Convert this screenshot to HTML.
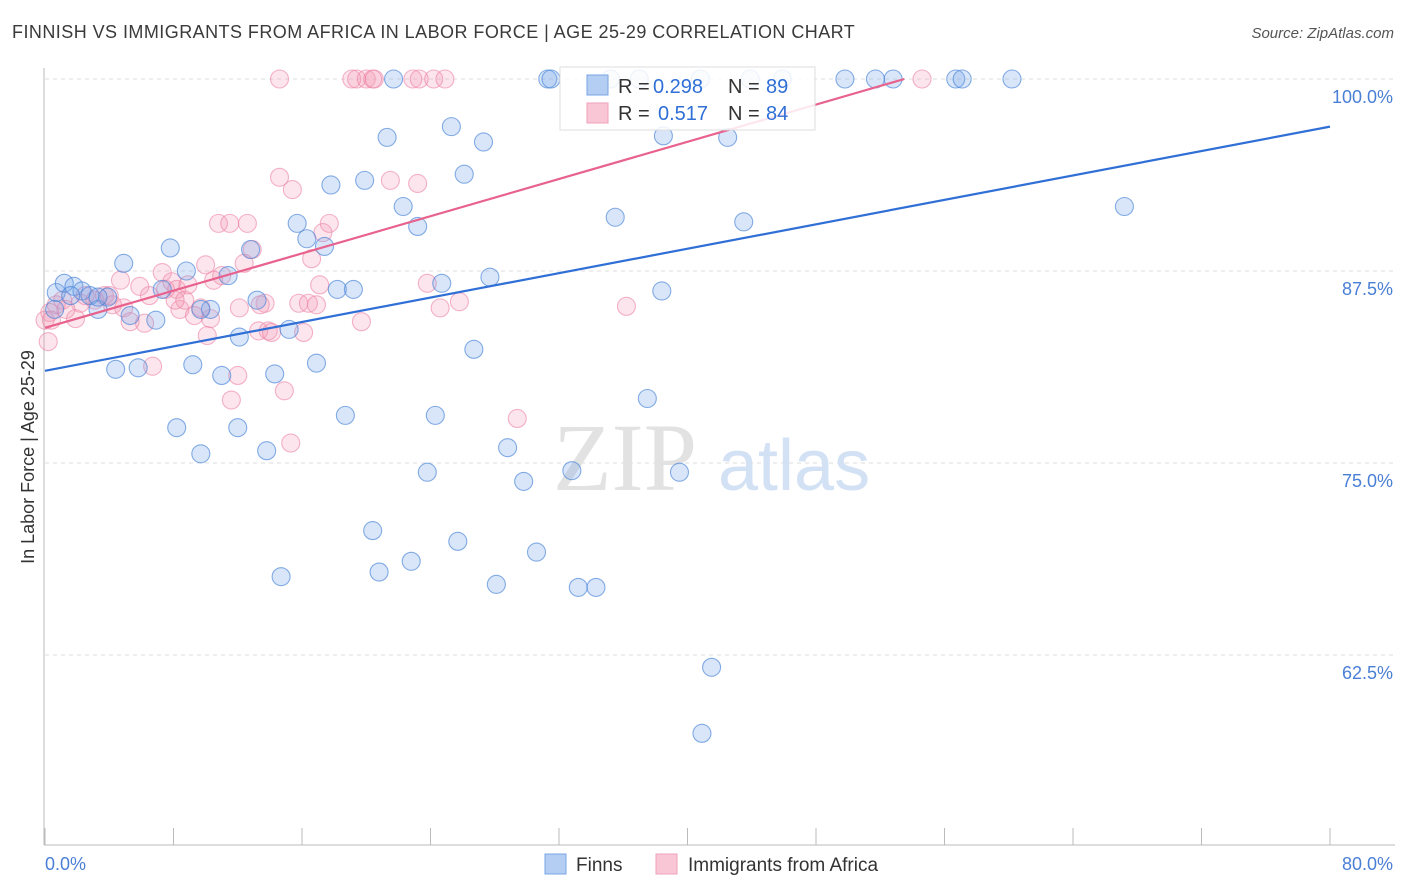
<!DOCTYPE html>
<html><head><meta charset="utf-8"><style>
body{margin:0;background:#fff;font-family:"Liberation Sans",sans-serif;}
#wrap{position:relative;width:1406px;height:892px;overflow:hidden;}
.t{position:absolute;white-space:nowrap;}
</style></head><body>
<div id="wrap">
<div class="t" style="left:12px;top:22px;font-size:18px;color:#3a3a3a;letter-spacing:0.45px;">FINNISH VS IMMIGRANTS FROM AFRICA IN LABOR FORCE | AGE 25-29 CORRELATION CHART</div>
<div class="t" style="right:12px;top:25px;font-size:15px;color:#555;font-style:italic;">Source: ZipAtlas.com</div>
<svg id="svg" width="1406" height="892" style="position:absolute;left:0;top:0"></svg>
</div>
<script>
const xTicksPct=[0,10,20,30,40,50,60,70,80];
const yTicks=[100,87.5,75,62.5];
const yTickLabels=["100.0%","87.5%","75.0%","62.5%"];
const finnsX=[0.7,1.2,1.8,2.3,2.8,3.3,3.9,0.6,4.9,7.8,8.8,11.4,4.4,5.8,5.3,6.9,7.3,8.2,9.2,9.7,10.3,11.0,12.0,12.1,12.8,13.2,13.8,14.3,14.7,15.2,15.7,16.3,16.9,17.4,17.8,18.2,18.7,19.2,19.9,20.4,20.8,21.3,22.3,22.8,23.2,23.8,24.3,24.7,25.3,25.7,26.1,26.7,27.3,27.7,28.1,28.8,29.8,30.6,31.3,31.5,32.8,33.2,34.3,35.5,37.5,38.4,38.5,39.5,41.5,40.9,42.5,43.5,67.2,21.7,35.2,37.0,40.8,43.9,45.9,49.8,51.7,52.8,56.7,57.1,60.2,9.7,3.3,1.6];
const finnsY=[86.1,86.7,86.5,86.2,85.9,85.0,85.8,85.0,88.0,89.0,87.5,87.2,81.1,81.2,84.6,84.3,86.3,77.3,81.4,75.6,85.0,80.7,77.3,83.2,88.9,85.6,75.8,80.8,67.6,83.7,90.6,89.6,81.5,89.1,93.1,86.3,78.1,86.3,93.4,70.6,67.9,96.2,91.7,68.6,90.4,74.4,78.1,86.7,96.9,69.9,93.8,82.4,95.9,87.1,67.1,76.0,73.8,69.2,100,100,74.5,66.9,66.9,91.0,79.2,86.2,96.3,74.4,61.7,57.4,96.2,90.7,91.7,100,100,100,100,100,100,100,100,100,100,100,100,85.0,85.8,85.9];
const afrX=[0.2,0.3,0.7,1.1,1.9,2.5,3.1,3.7,4.2,4.7,4.9,5.3,5.9,6.2,6.5,6.7,7.3,7.5,7.9,8.2,8.4,8.7,8.9,9.3,9.7,10.0,10.1,10.3,10.5,10.8,11.0,11.5,11.6,12.0,12.1,12.6,12.4,12.9,13.3,13.7,13.9,14.1,14.6,14.6,14.9,15.3,15.4,15.8,16.1,16.4,16.6,16.9,17.1,17.3,17.7,19.1,19.4,19.7,20.0,20.4,20.5,21.5,22.9,23.2,23.3,23.8,24.2,24.6,24.9,25.8,29.4,36.2,54.6,4.0,2.2,1.3,13.4,8.1,0.0,0.4];
const afrY=[82.9,84.8,85.3,85.6,84.4,85.9,85.6,85.9,85.3,86.9,85.1,84.2,86.5,84.1,85.9,81.3,87.4,86.3,86.8,86.3,85.0,85.6,86.6,84.6,85.1,87.9,83.3,84.4,86.9,90.6,87.2,90.6,79.1,80.7,85.1,90.6,88.0,88.9,83.6,85.4,83.6,83.5,100,93.6,79.7,76.3,92.8,85.4,83.5,85.4,88.3,85.3,86.6,90.0,90.6,100,100,84.2,100,100,100,93.4,100,93.2,100,86.7,100,85.1,100,85.5,77.9,85.2,100,85.9,85.4,85.0,85.3,85.6,84.3,84.3];
const finnsTrend=[0,81.0,80,96.9];
const afrTrend=[0,83.8,53.5,100];

const NS="http://www.w3.org/2000/svg";
const svg=document.getElementById('svg');
const X=v=>45+v/80*1285;
const Y=v=>79+(100-v)/12.5*192;
function mk(tag,attrs,parent){const e=document.createElementNS(NS,tag);for(const k in attrs)e.setAttribute(k,attrs[k]);(parent||svg).appendChild(e);return e;}
yTicks.forEach((v,i)=>{
 const g=mk('line',{x1:45,x2:1395,y1:Y(v),y2:Y(v),stroke:'#ddd','stroke-dasharray':'4,4'});
 
 
 const t=mk('text',{x:1393,y:Y(v)+24,'text-anchor':'end','font-size':18,fill:'#4a7fd6','font-family':'Liberation Sans'});
 t.textContent=yTickLabels[i];
 
 
});
const ya=mk('line',{x1:44,x2:44,y1:68,y2:845,stroke:'#bbb'});


const xa=mk('line',{x1:44,x2:1395,y1:845,y2:845,stroke:'#bbb'});


for(let i=0;i<=10;i++){
 const tk=mk('line',{x1:X(i*8),x2:X(i*8),y1:828,y2:845,stroke:'#bbb'});
 
 
}
const xl0=mk('text',{x:45,y:870,'font-size':18,fill:'#4a7fd6','font-family':'Liberation Sans'});xl0.textContent='0.0%';


const xl1=mk('text',{x:1393,y:870,'text-anchor':'end','font-size':18,fill:'#4a7fd6','font-family':'Liberation Sans'});xl1.textContent='80.0%';


const yt=mk('text',{x:0,y:0,transform:'translate(34,457) rotate(-90)','text-anchor':'middle','font-size':18,fill:'#333','font-family':'Liberation Sans'});yt.textContent='In Labor Force | Age 25-29';


const wm=mk('text',{x:553,y:490,'font-size':96,fill:'#e2e2e2','font-family':'Liberation Serif'});wm.textContent='ZIP';


const wm2=mk('text',{x:718,y:490,'font-size':72,fill:'#d3e1f5','font-family':'Liberation Sans'});wm2.textContent='atlas';


afrX.forEach((x,i)=>{
 const c=mk('circle',{cx:X(x),cy:Y(afrY[i]),r:9,fill:'rgba(244,150,180,0.25)',stroke:'rgba(236,130,165,0.6)','stroke-width':1.1});
 
 
});
finnsX.forEach((x,i)=>{
 const c=mk('circle',{cx:X(x),cy:Y(finnsY[i]),r:9,fill:'rgba(120,165,235,0.28)',stroke:'rgba(70,130,215,0.65)','stroke-width':1.1});
 
 
});
const bl=mk('line',{x1:X(finnsTrend[0]),y1:Y(finnsTrend[1]),x2:X(finnsTrend[2]),y2:Y(finnsTrend[3]),stroke:'#2f6fd6','stroke-width':2.2});


const pl=mk('line',{x1:X(afrTrend[0]),y1:Y(afrTrend[1]),x2:X(afrTrend[2]),y2:Y(afrTrend[3]),stroke:'#e8628e','stroke-width':2.2});


const lg=mk('g',{});


mk('rect',{x:560,y:67,width:255,height:63,fill:'rgba(255,255,255,0.85)',stroke:'#ddd'},lg);
mk('rect',{x:587,y:75,width:21,height:20,fill:'#b4cdf2',stroke:'#7aa4e4'},lg);
mk('rect',{x:587,y:103,width:21,height:20,fill:'#f9c6d5',stroke:'#f0a0ba'},lg);
function lt(x,y,s,c){const t=mk('text',{x:x,y:y,'font-size':20,fill:c,'font-family':'Liberation Sans'},lg);t.textContent=s;return t;}
lt(618,93,'R =','#333');lt(653,93,'0.298','#2f6fd6');lt(728,93,'N =','#333');lt(766,93,'89','#2f6fd6');
lt(618,120,'R =','#333');lt(658,120,'0.517','#2f6fd6');lt(728,120,'N =','#333');lt(766,120,'84','#2f6fd6');
const b1=mk('rect',{x:545,y:854,width:21,height:20,fill:'#b4cdf2',stroke:'#7aa4e4'});


const b1t=mk('text',{x:576,y:871,'font-size':19,fill:'#333','font-family':'Liberation Sans'});b1t.textContent='Finns';


const b2=mk('rect',{x:656,y:854,width:21,height:20,fill:'#f9c6d5',stroke:'#f0a0ba'});


const b2t=mk('text',{x:688,y:871,'font-size':19,fill:'#333','font-family':'Liberation Sans'});b2t.textContent='Immigrants from Africa';


</script>
</body></html>
